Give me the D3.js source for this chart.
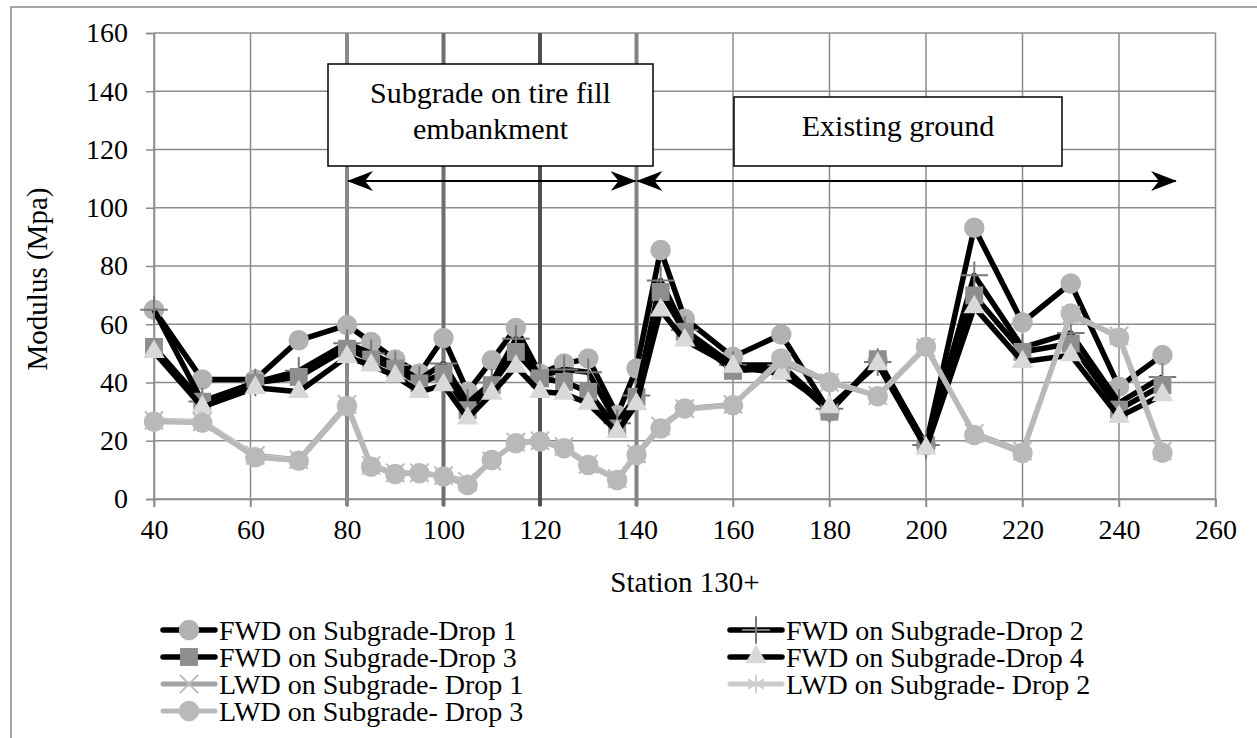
<!DOCTYPE html>
<html>
<head>
<meta charset="utf-8">
<script src="https://cdn.jsdelivr.net/npm/d3@7"></script>
<style>
  body { margin: 0; background: #fff; }
  svg text { font-family: "Liberation Serif", Tinos, "Times New Roman", Times, "DejaVu Serif", serif; fill: #000; }
</style>
</head>
<body>
<div class="chart"></div>
<script>
const stations = [40, 50, 61, 70, 80, 85, 90, 95, 100, 105, 110, 115, 120, 125, 130, 136, 140, 145, 150, 160, 170, 180, 190, 200, 210, 220, 230, 240, 249]

const fwd1 = [65, 41, 41, 54.5, 59.7, 53.9, 47.9, 43.1, 55.3, 36.8, 47.6, 58.7, 43, 46.5, 48.2, 28.8, 44.8, 85.5, 61.9, 48.8, 56.5, 30, 47.5, 18.5, 93.1, 60.6, 74, 38.5, 49.4]
const fwd2 = [65, 33.5, 40, 44, 53.5, 50, 46, 41, 46.5, 33, 40, 55, 42, 44.5, 43.5, 26, 35.5, 75, 58, 46, 46, 31, 47, 18.5, 76.8, 52, 57, 33, 41.9]
const fwd3 = [52.2, 33.4, 39.9, 41.9, 51.6, 47.9, 44.8, 39.7, 43.1, 30.5, 39.1, 50.5, 41.4, 40.2, 36.8, 24.2, 35.1, 71.1, 57.4, 44, 45, 30, 48, 18.5, 69.9, 50.5, 53.4, 30.7, 39.1]
const fwd4 = [50.5, 31.6, 38.2, 36.8, 48.8, 45.9, 42.2, 36.8, 39.1, 27.7, 36.2, 45.5, 36.8, 36.2, 32.8, 23.1, 32.6, 64.8, 54.5, 45.5, 43.1, 31.6, 46.3, 17.4, 65.9, 47.1, 49.4, 28.2, 35.7]
const lwd1 = [27, 26.5, 15, 13.5, 32.5, 11.5, 9, 9, 8, 6, 13, 19.5, 20, 18, 12, 7, 15.5, 25, 31, 32.5, 47, 40, 35.5, 52, 22.5, 16.5, 63, 56, 16.5]
const lwd2 = [26.8, 26.8, 14.8, 13.2, 32, 11.3, 8.8, 9.2, 7.9, 5.5, 13.2, 19.3, 19.9, 17.8, 12, 6.8, 15.3, 24.6, 30.6, 32.3, 47.8, 40.5, 35.5, 52.5, 22.2, 16, 63.5, 55.8, 16.2]
const lwd3 = [26.5, 26.2, 14.3, 13.1, 31.9, 11.1, 8.6, 8.8, 7.7, 4.8, 13.4, 19.1, 19.7, 17.4, 11.7, 6.5, 15.1, 24.2, 31.1, 32.2, 48.2, 40.2, 35.3, 52.3, 22, 15.8, 63.7, 55.4, 15.9]

const seriesNames = ["FWD on Subgrade-Drop 1", "FWD on Subgrade-Drop 2", "FWD on Subgrade-Drop 3", "FWD on Subgrade-Drop 4",
  "LWD on Subgrade- Drop 1", "LWD on Subgrade- Drop 2", "LWD on Subgrade- Drop 3"]
const seriesValues = [fwd1, fwd2, fwd3, fwd4, lwd1, lwd2, lwd3]

const xTicks = [40, 60, 80, 100, 120, 140, 160, 180, 200, 220, 240, 260]
const yTicks = [0, 20, 40, 60, 80, 100, 120, 140, 160]
const zoneLines = [80, 100, 120, 140]
const zoneLineColors = ["#8a8a8a", "#6e6e6e", "#505050", "#858585"]

const width = 1257
const height = 738
const plotLeft = 154, plotRight = 1215.5, plotTop = 33, plotBottom = 499
const serif = '"Liberation Serif", Tinos, "Times New Roman", Times, "DejaVu Serif", serif'

const x = d3.scaleLinear().domain([40, 260]).range([plotLeft, plotRight])
const y = d3.scaleLinear().domain([0, 160]).range([plotBottom, plotTop])

// marker style per series
const styles = [
  { line: "#000", lw: 5.5, sym: d3.symbolCircle, size: 330, fill: "#b2b2b2", stroke: "none" },
  { line: "#000", lw: 5.5, sym: d3.symbolPlus || d3.symbolCross, size: 250, fill: "none", stroke: "#7a7a7a", sw: 2 },
  { line: "#000", lw: 5.5, sym: d3.symbolSquare, size: 320, fill: "#8e8e8e", stroke: "none" },
  { line: "#000", lw: 5.5, sym: d3.symbolTriangle, size: 200, fill: "#d9d9d9", stroke: "none" },
  { line: "#a3a3a3", lw: 5, sym: d3.symbolTimes || d3.symbolCross, size: 220, fill: "none", stroke: "#bdbdbd", sw: 2 },
  { line: "#cccccc", lw: 5, sym: d3.symbolAsterisk || d3.symbolStar, size: 240, fill: "none", stroke: "#cfcfcf", sw: 2 },
  { line: "#b9b9b9", lw: 5, sym: d3.symbolCircle, size: 330, fill: "#b9b9b9", stroke: "none" }
]

const svg = d3.select(".chart").append("svg")
  .attr("width", width)
  .attr("height", height)

// chart border
svg.append("rect")
  .attr("x", 11).attr("y", 7)
  .attr("width", 1400).attr("height", 900)
  .attr("fill", "none")
  .attr("stroke", "#888")
  .attr("stroke-width", 1.5)

// gridlines
svg.append("g")
  .selectAll("line")
  .data(yTicks)
  .enter().append("line")
  .attr("x1", plotLeft).attr("x2", plotRight)
  .attr("y1", d => y(d)).attr("y2", d => y(d))
  .attr("stroke", "#8c8c8c").attr("stroke-width", 1.5)

svg.append("g")
  .selectAll("line")
  .data(xTicks)
  .enter().append("line")
  .attr("x1", d => x(d)).attr("x2", d => x(d))
  .attr("y1", plotTop).attr("y2", plotBottom + 8)
  .attr("stroke", "#8c8c8c").attr("stroke-width", 1.5)

// y axis
const yAxis = svg.append("g")
  .attr("transform", "translate(" + plotLeft + ",0)")
  .call(d3.axisLeft(y).tickValues(yTicks).tickSize(8).tickPadding(18))
yAxis.select(".domain").attr("stroke", "#8c8c8c").attr("stroke-width", 1.5)
yAxis.selectAll(".tick line").attr("stroke", "#8c8c8c").attr("stroke-width", 1.5)
yAxis.selectAll(".tick text")
  .style("font-family", serif)
  .style("font-size", "28px")
  .attr("fill", "#000")

// x axis
const xAxis = svg.append("g")
  .attr("transform", "translate(0," + plotBottom + ")")
  .call(d3.axisBottom(x).tickValues(xTicks).tickSize(8).tickPadding(12))
xAxis.select(".domain").attr("stroke", "#8c8c8c").attr("stroke-width", 1.5)
xAxis.selectAll(".tick line").attr("stroke", "#8c8c8c").attr("stroke-width", 1.5)
xAxis.selectAll(".tick text")
  .style("font-family", serif)
  .style("font-size", "28px")
  .attr("fill", "#000")

// zone separator lines
svg.append("g")
  .selectAll("line")
  .data(zoneLines)
  .enter().append("line")
  .attr("x1", d => x(d)).attr("x2", d => x(d))
  .attr("y1", plotTop).attr("y2", plotBottom + 7)
  .attr("stroke", (d, i) => zoneLineColors[i])
  .attr("stroke-width", 4)

// axis titles
svg.append("text")
  .attr("transform", "translate(47,279) rotate(-90)")
  .style("text-anchor", "middle")
  .style("font-size", "29px")
  .text("Modulus (Mpa)")

svg.append("text")
  .attr("x", 685).attr("y", 592)
  .style("text-anchor", "middle")
  .style("font-size", "29px")
  .text("Station 130+")

// series
const line = d3.line()
  .x(d => x(d.s))
  .y(d => y(d.v))

seriesValues.forEach(function(vals, i) {
  const st = styles[i]
  const pts = stations.map((s, j) => ({ s: s, v: vals[j] }))
  const g = svg.append("g").attr("class", "series")
  g.append("path")
    .datum(pts)
    .attr("d", line)
    .attr("fill", "none")
    .attr("stroke", st.line)
    .attr("stroke-width", st.lw)
    .attr("stroke-linejoin", "round")
  g.selectAll("path.m")
    .data(pts)
    .enter().append("path")
    .attr("class", "m")
    .attr("transform", d => "translate(" + x(d.s) + "," + y(d.v) + ")")
    .attr("d", d3.symbol().type(st.sym).size(st.size))
    .attr("fill", st.fill)
    .attr("stroke", st.stroke)
    .attr("stroke-width", st.sw || 0)
})

// annotation boxes
const boxes = [
  { x0: 328, x1: 653, y0: 64, y1: 166, lines: ["Subgrade on tire fill", "embankment"], base: [103, 139] },
  { x0: 734, x1: 1062, y0: 97, y1: 166, lines: ["Existing ground"], base: [136] }
]
boxes.forEach(function(b) {
  svg.append("rect")
    .attr("x", b.x0).attr("y", b.y0)
    .attr("width", b.x1 - b.x0).attr("height", b.y1 - b.y0)
    .attr("fill", "#fff")
    .attr("stroke", "#000")
    .attr("stroke-width", 1.5)
  b.lines.forEach(function(t, k) {
    svg.append("text")
      .attr("x", (b.x0 + b.x1) / 2).attr("y", b.base[k])
      .style("text-anchor", "middle")
      .style("font-size", "30px")
      .text(t)
  })
})

// arrows
const defs = svg.append("defs")
defs.append("marker")
  .attr("id", "head")
  .attr("viewBox", "0 0 26 20")
  .attr("refX", 25).attr("refY", 10)
  .attr("markerWidth", 26).attr("markerHeight", 20)
  .attr("markerUnits", "userSpaceOnUse")
  .attr("orient", "auto-start-reverse")
  .append("path")
  .attr("d", "M0,0 L26,10 L0,20 L8,10 Z")
  .attr("fill", "#000")

const arrows = [[80, 140], [140, 252]]
arrows.forEach(function(a) {
  svg.append("line")
    .attr("x1", x(a[0]) + 1).attr("x2", x(a[1]) - 1)
    .attr("y1", 181).attr("y2", 181)
    .attr("stroke", "#000")
    .attr("stroke-width", 2)
    .attr("marker-start", "url(#head)")
    .attr("marker-end", "url(#head)")
})

// Legend
const legend = svg.append("g")
seriesNames.forEach(function(name, i) {
  const st = styles[i]
  const col = i % 2
  const row = Math.floor(i / 2)
  const lx = col === 0 ? 161 : 728
  const ly = 630 + row * 27
  const item = legend.append("g").attr("transform", "translate(" + lx + "," + ly + ")")
  item.append("line")
    .attr("x1", 2).attr("x2", 54)
    .attr("stroke", st.line)
    .attr("stroke-width", st.lw)
    .attr("stroke-linecap", "round")
  item.append("path")
    .attr("transform", "translate(28,0)")
    .attr("d", d3.symbol().type(st.sym).size(st.size))
    .attr("fill", st.fill)
    .attr("stroke", st.stroke)
    .attr("stroke-width", st.sw || 0)
  item.append("text")
    .attr("x", 58).attr("y", 10)
    .style("font-size", "28px")
    .text(name)
})
</script>
</body>
</html>
